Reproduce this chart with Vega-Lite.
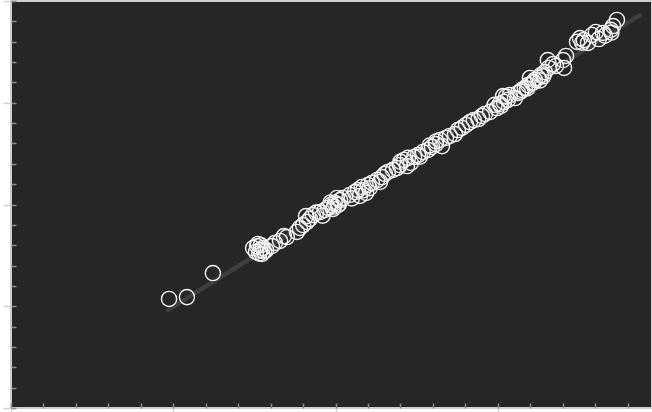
{
  "$schema": "https://vega.github.io/schema/vega-lite/v6.json",
  "width": 641,
  "height": 407,
  "autosize": "none",
  "padding": {"left": 11, "top": 1, "right": 0, "bottom": 4},
  "background": "white",
  "config": {
    "view": {"fill": "#262626", "stroke": "#cfcfcf", "strokeWidth": 2},
    "axis": {"labels": false, "title": null, "grid": false, "domain": false}
  },
  "datasets": {
    "pts": [
      {"x": 4.87, "y": 5.36}, {"x": 5.42, "y": 5.45}, {"x": 6.22, "y": 6.63},
      {"x": 7.46, "y": 7.86}, {"x": 7.55, "y": 7.67}, {"x": 7.67, "y": 7.76}, {"x": 7.61, "y": 8.06},
      {"x": 7.76, "y": 7.86}, {"x": 7.86, "y": 7.76}, {"x": 7.73, "y": 7.57}, {"x": 8.13, "y": 8.11},
      {"x": 8.04, "y": 7.96}, {"x": 8.29, "y": 8.21}, {"x": 8.5, "y": 8.4}, {"x": 8.41, "y": 8.45},
      {"x": 8.81, "y": 8.65}, {"x": 8.9, "y": 8.85}, {"x": 9.0, "y": 8.99}, {"x": 9.12, "y": 9.14},
      {"x": 9.21, "y": 9.29}, {"x": 9.09, "y": 9.43}, {"x": 9.3, "y": 9.48}, {"x": 9.52, "y": 9.63},
      {"x": 9.67, "y": 9.73}, {"x": 9.77, "y": 9.83}, {"x": 9.86, "y": 9.98}, {"x": 9.98, "y": 10.07},
      {"x": 10.07, "y": 9.98}, {"x": 9.92, "y": 9.78}, {"x": 10.14, "y": 10.22}, {"x": 10.23, "y": 10.32},
      {"x": 10.04, "y": 10.32}, {"x": 10.44, "y": 10.47}, {"x": 10.6, "y": 10.61}, {"x": 10.69, "y": 10.71},
      {"x": 10.81, "y": 10.86}, {"x": 10.94, "y": 10.57}, {"x": 10.75, "y": 10.42}, {"x": 11.0, "y": 10.96},
      {"x": 11.12, "y": 11.06}, {"x": 11.28, "y": 11.2}, {"x": 11.43, "y": 11.35}, {"x": 11.52, "y": 11.5},
      {"x": 11.61, "y": 11.6}, {"x": 11.37, "y": 11.11}, {"x": 11.77, "y": 11.7}, {"x": 11.89, "y": 11.79},
      {"x": 11.98, "y": 11.94}, {"x": 12.11, "y": 12.19}, {"x": 12.2, "y": 11.89}, {"x": 12.32, "y": 12.04},
      {"x": 12.23, "y": 12.29}, {"x": 12.42, "y": 12.33}, {"x": 12.54, "y": 12.43}, {"x": 12.69, "y": 12.58},
      {"x": 12.85, "y": 12.68}, {"x": 12.97, "y": 12.83}, {"x": 13.09, "y": 12.97}, {"x": 13.22, "y": 13.17},
      {"x": 13.28, "y": 12.87}, {"x": 13.4, "y": 13.27}, {"x": 13.52, "y": 13.37}, {"x": 13.68, "y": 13.46},
      {"x": 13.77, "y": 13.66}, {"x": 13.89, "y": 13.76}, {"x": 14.02, "y": 13.91}, {"x": 14.14, "y": 14.05},
      {"x": 14.26, "y": 14.15}, {"x": 14.51, "y": 14.35}, {"x": 14.76, "y": 14.55}, {"x": 14.97, "y": 14.74},
      {"x": 15.06, "y": 14.94}, {"x": 15.19, "y": 15.04}, {"x": 15.31, "y": 15.14}, {"x": 15.16, "y": 15.33},
      {"x": 15.37, "y": 15.38}, {"x": 15.53, "y": 15.23}, {"x": 15.62, "y": 15.48}, {"x": 15.74, "y": 15.63},
      {"x": 15.83, "y": 15.72}, {"x": 15.93, "y": 15.87}, {"x": 16.05, "y": 15.97}, {"x": 16.14, "y": 16.12},
      {"x": 15.99, "y": 16.22}, {"x": 16.24, "y": 16.22}, {"x": 16.33, "y": 16.36}, {"x": 16.45, "y": 16.51},
      {"x": 16.57, "y": 16.71}, {"x": 16.7, "y": 16.9}, {"x": 16.54, "y": 17.1}, {"x": 16.79, "y": 16.81},
      {"x": 17.01, "y": 17.1}, {"x": 17.1, "y": 17.3}, {"x": 17.04, "y": 16.71}, {"x": 17.44, "y": 17.99},
      {"x": 17.53, "y": 18.18}, {"x": 17.65, "y": 18.08}, {"x": 17.78, "y": 17.94}, {"x": 17.9, "y": 18.33},
      {"x": 18.02, "y": 18.48}, {"x": 18.11, "y": 18.13}, {"x": 18.24, "y": 18.43}, {"x": 18.48, "y": 18.58},
      {"x": 18.55, "y": 18.77}, {"x": 18.67, "y": 19.07},
      {"x": 7.58, "y": 7.95}, {"x": 7.7, "y": 8.0}, {"x": 7.8, "y": 7.7}, {"x": 7.65, "y": 7.6},
      {"x": 9.4, "y": 9.6}, {"x": 9.6, "y": 9.45}, {"x": 9.85, "y": 10.1}, {"x": 10.1, "y": 10.0}, {"x": 9.95, "y": 9.9},
      {"x": 10.5, "y": 10.3}, {"x": 10.85, "y": 10.7}, {"x": 11.05, "y": 10.8},
      {"x": 12.0, "y": 12.1}, {"x": 12.6, "y": 12.35}, {"x": 12.9, "y": 12.9}, {"x": 13.1, "y": 13.1},
      {"x": 14.4, "y": 14.2}, {"x": 14.6, "y": 14.45}, {"x": 14.9, "y": 14.9}, {"x": 15.1, "y": 14.85}, {"x": 15.25, "y": 15.3},
      {"x": 15.7, "y": 15.55}, {"x": 15.9, "y": 15.7}, {"x": 16.1, "y": 16.0}, {"x": 16.3, "y": 16.1}, {"x": 16.4, "y": 16.3},
      {"x": 17.6, "y": 17.95}, {"x": 18.3, "y": 18.3}, {"x": 18.5, "y": 18.45}
    ],
    "fit": [
      {"x": 4.84, "y": 4.82},
      {"x": 19.38, "y": 19.31}
    ]
  },
  "layer": [
    {
      "data": {"name": "fit"},
      "mark": {"type": "line", "color": "#3e3e3e", "strokeWidth": 4.5, "strokeCap": "round"},
      "encoding": {
        "x": {"field": "x", "type": "quantitative", "scale": {"domain": [0, 19.75], "nice": false, "zero": false},
              "axis": {"orient": "bottom", "values": [0, 5, 10, 15], "tickSize": 8, "tickColor": "#d4d4d4", "tickWidth": 1.5}},
        "y": {"field": "y", "type": "quantitative", "scale": {"domain": [0, 20], "nice": false, "zero": false},
              "axis": {"orient": "left", "values": [0, 5, 10, 15, 20], "tickSize": 8, "tickColor": "#d4d4d4", "tickWidth": 1.5}}
      }
    },
    {
      "data": {"name": "pts"},
      "mark": {"type": "point", "shape": "circle", "filled": false, "color": "#f2f2f2", "strokeWidth": 1.4, "size": 230, "opacity": 1},
      "encoding": {
        "x": {"field": "x", "type": "quantitative", "scale": {"domain": [0, 19.75], "nice": false, "zero": false},
              "axis": {"orient": "bottom", "values": [0,1,2,3,4,5,6,7,8,9,10,11,12,13,14,15,16,17,18,19], "tickSize": -5, "tickColor": "#8c8c8c", "tickWidth": 1.5}},
        "y": {"field": "y", "type": "quantitative", "scale": {"domain": [0, 20], "nice": false, "zero": false},
              "axis": {"orient": "left", "values": [0,1,2,3,4,5,6,7,8,9,10,11,12,13,14,15,16,17,18,19,20], "tickSize": -5, "tickColor": "#8c8c8c", "tickWidth": 1.5}}
      }
    }
  ],
  "resolve": {"axis": {"x": "independent", "y": "independent"}}
}
